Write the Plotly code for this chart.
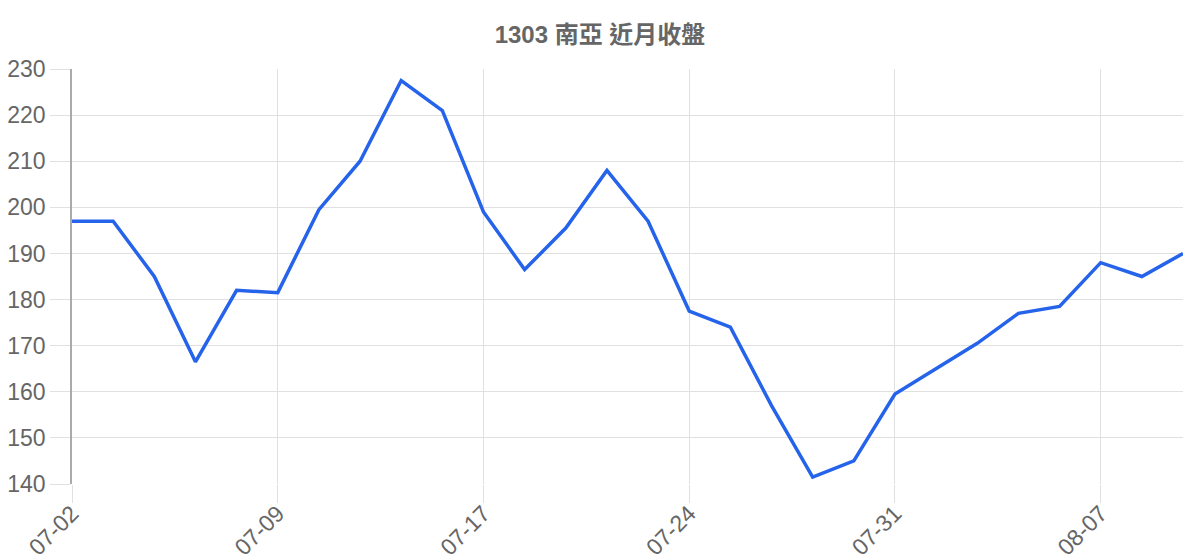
import plotly.graph_objects as go

dates = ["07-02", "07-03", "07-04", "07-05", "07-08", "07-09", "07-10", "07-11",
         "07-12", "07-15", "07-17", "07-18", "07-19", "07-22", "07-23", "07-24",
         "07-25", "07-26", "07-29", "07-30", "07-31", "08-01", "08-02", "08-05",
         "08-06", "08-07", "08-08", "08-09"]
closes = [197, 197, 185, 166.5, 182, 181.5, 199.5, 210,
          227.5, 221, 199, 186.5, 195.5, 208, 197, 177.5,
          174, 157, 141.5, 145, 159.5, 165, 170.5, 177,
          178.5, 188, 185, 190]
tick_dates = dates[::5]
title_text = "1303 南亞 近月收盤"

font_family = "Liberation Sans, Arial, Noto Sans CJK TC, sans-serif"

fig = go.Figure()
fig.add_trace(go.Scatter(
    x=dates, y=closes, mode="lines",
    line=dict(color="#2563eb", width=3.5),
    hoverinfo="x+y",
))

fig.update_layout(
    width=1200, height=560,
    margin=dict(l=64, r=25, t=61, b=84, autoexpand=False),
    paper_bgcolor="white", plot_bgcolor="white",
    showlegend=False,
    font=dict(family=font_family, color="#666666", size=23),
    title=dict(text="<b>" + title_text + "</b>", x=0.5 - 8 / 1200, xanchor="center",
               y=1 - 27 / 560, yanchor="middle",
               font=dict(size=24, color="#666666", family=font_family)),
)
fig.update_xaxes(
    type="category", categoryorder="array", categoryarray=dates,
    range=[0, len(dates) - 1],
    tickvals=tick_dates, ticktext=tick_dates,
    tickangle=-45, automargin=False,
    showgrid=True, gridcolor="#e0e0e0", gridwidth=1,
    ticks="outside", ticklen=18, tickcolor="#e0e0e0", tickwidth=1,
    ticklabelstandoff=-12,
    showline=False, zeroline=False,
    tickfont=dict(size=23, color="#666666"),
)
fig.update_yaxes(
    range=[140, 230], dtick=10, tick0=140, automargin=False,
    showgrid=True, gridcolor="#e0e0e0", gridwidth=1,
    ticks="outside", ticklen=20, tickcolor="#e0e0e0", tickwidth=1,
    showline=True, linecolor="#aaaaaa", linewidth=1.5,
    zeroline=False,
    tickfont=dict(size=23, color="#666666"),
)

fig.write_html("out.html")
